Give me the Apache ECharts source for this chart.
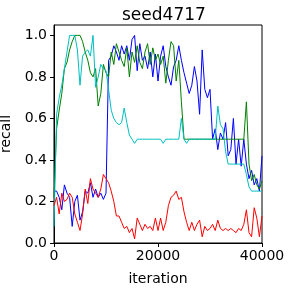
<!DOCTYPE html>
<html>
<head>
<meta charset="utf-8">
<script src="https://cdn.jsdelivr.net/npm/echarts@6/dist/echarts.min.js"></script>
<style>html,body{margin:0;padding:0;background:#fff}#c{width:290px;height:290px}</style>
</head>
<body>
<div id="c"></div>
<script>
const iterations = [0,500,1000,1500,2000,2500,3000,3500,4000,4500,5000,5500,6000,6500,7000,7500,8000,8500,9000,9500,
10000,10500,11000,11500,12000,12500,13000,13500,14000,14500,15000,15500,16000,16500,17000,17500,18000,18500,19000,19500,
20000,20500,21000,21500,22000,22500,23000,23500,24000,24500,25000,25500,26000,26500,27000,27500,28000,28500,29000,29500,
30000,30500,31000,31500,32000,32500,33000,33500,34000,34500,35000,35500,36000,36500,37000,37500,38000,38500,39000,39500,40000];

const blueRecall = [0.25,0.25,0.22,0.16,0.28,0.24,0.22,0.08,0.20,0.23,0.11,0.15,0.25,0.24,0.29,0.22,0.26,0.22,0.24,0.21,
0.24,0.88,0.90,0.95,0.92,0.88,0.95,0.91,0.95,0.88,0.98,1.00,0.83,0.96,0.88,0.90,0.84,0.92,0.80,0.91,
0.78,0.90,0.95,0.85,0.80,0.76,0.85,0.88,0.95,0.88,0.82,0.77,0.72,0.76,0.85,0.78,0.62,0.93,0.74,0.70,
0.74,0.50,0.55,0.45,0.53,0.50,0.58,0.42,0.45,0.60,0.38,0.50,0.37,0.50,0.38,0.31,0.35,0.28,0.31,0.25,0.42];

const greenRecall = [0.22,0.55,0.64,0.72,0.84,0.87,0.93,0.97,1.00,1.00,1.00,0.97,0.92,0.88,0.82,0.80,0.84,0.66,0.72,0.86,
0.82,0.80,0.92,0.86,0.96,0.92,0.88,0.85,0.94,0.80,0.92,0.87,0.95,0.87,0.84,0.92,0.96,0.86,0.94,0.88,
0.91,0.86,0.90,0.77,0.88,0.97,0.95,0.78,0.88,0.68,0.50,0.50,0.50,0.50,0.50,0.50,0.50,0.50,0.50,0.50,
0.50,0.50,0.50,0.50,0.50,0.50,0.50,0.50,0.50,0.50,0.50,0.50,0.50,0.50,0.68,0.38,0.30,0.33,0.28,0.26,0.30];

const cyanRecall = [0.08,0.62,0.70,0.76,0.84,0.92,1.00,1.00,1.00,0.93,0.76,0.90,0.92,0.93,0.90,1.00,0.75,0.80,0.86,0.84,
0.83,0.74,0.64,0.60,0.58,0.57,0.58,0.65,0.58,0.52,0.50,0.48,0.50,0.50,0.50,0.50,0.50,0.50,0.50,0.50,
0.50,0.50,0.48,0.50,0.50,0.50,0.50,0.50,0.50,0.60,0.50,0.48,0.50,0.50,0.50,0.50,0.50,0.50,0.50,0.50,
0.50,0.50,0.50,0.66,0.57,0.55,0.44,0.38,0.38,0.38,0.38,0.38,0.38,0.38,0.33,0.27,0.25,0.25,0.25,0.25,0.25];

const redRecall = [0.18,0.22,0.14,0.24,0.20,0.21,0.24,0.22,0.14,0.10,0.06,0.14,0.26,0.19,0.31,0.26,0.24,0.22,0.26,0.33,
0.31,0.29,0.25,0.20,0.13,0.13,0.10,0.07,0.08,0.05,0.07,0.02,0.12,0.09,0.06,0.09,0.07,0.08,0.06,0.12,
0.06,0.12,0.06,0.10,0.18,0.22,0.23,0.25,0.21,0.22,0.15,0.10,0.06,0.10,0.06,0.09,0.11,0.03,0.08,0.06,
0.07,0.09,0.06,0.11,0.07,0.06,0.07,0.06,0.07,0.06,0.05,0.07,0.06,0.09,0.16,0.05,0.03,0.17,0.12,0.03,0.13];

const xTicks = [0, 20000, 40000];
const yTicks = [0, 0.2, 0.4, 0.6, 0.8, 1.0];

const FONT = 'DejaVu Sans';
const pairs = arr => iterations.map((x, i) => [x, arr[i]]);
const mk = (name, arr, color) => ({
  name, type: 'line', data: pairs(arr), showSymbol: false, symbol: 'none',
  lineStyle: { color, width: 1 }, itemStyle: { color }, z: 2
});

const chart = echarts.init(document.getElementById('c'), null, { renderer: 'canvas' });
chart.setOption({
  animation: false,
  backgroundColor: '#fff',
  title: {
    text: 'seed4717', left: 117, top: 2,
    textStyle: { fontFamily: FONT, fontSize: 17, fontWeight: 'normal', color: '#000' }
  },
  grid: { left: 54, top: 25, width: 208, height: 218, containLabel: false, outerBoundsMode: 'none',
    show: true, borderColor: '#000', borderWidth: 1, backgroundColor: 'transparent' },
  xAxis: {
    type: 'value', min: 0, max: 40000, interval: 20000,
    name: 'iteration', nameLocation: 'middle', nameGap: 29,
    nameTextStyle: { fontFamily: FONT, fontSize: 14, color: '#000' },
    axisLine: { show: true, lineStyle: { color: '#000' } },
    axisTick: { show: true, inside: false, length: 4, lineStyle: { color: '#000' }, customValues: xTicks },
    axisLabel: { fontFamily: FONT, fontSize: 14, color: '#000', margin: 6, customValues: xTicks,
      formatter: v => String(v), hideOverlap: false },
    splitLine: { show: false }
  },
  yAxis: {
    type: 'value', min: 0, max: 1.05, interval: 0.2,
    name: 'recall', nameLocation: 'middle', nameGap: 38,
    nameTextStyle: { fontFamily: FONT, fontSize: 14, color: '#000' },
    axisLine: { show: true, lineStyle: { color: '#000' } },
    axisTick: { show: true, inside: false, length: 4, lineStyle: { color: '#000' }, customValues: yTicks },
    axisLabel: { fontFamily: FONT, fontSize: 14, color: '#000', margin: 7, customValues: yTicks,
      formatter: v => v.toFixed(1) },
    splitLine: { show: false }
  },
  series: [
    mk('blue', blueRecall, '#0000ff'),
    mk('green', greenRecall, '#008000'),
    mk('cyan', cyanRecall, '#00bfbf'),
    mk('red', redRecall, '#ff0000')
  ]
});
</script>
</body>
</html>
